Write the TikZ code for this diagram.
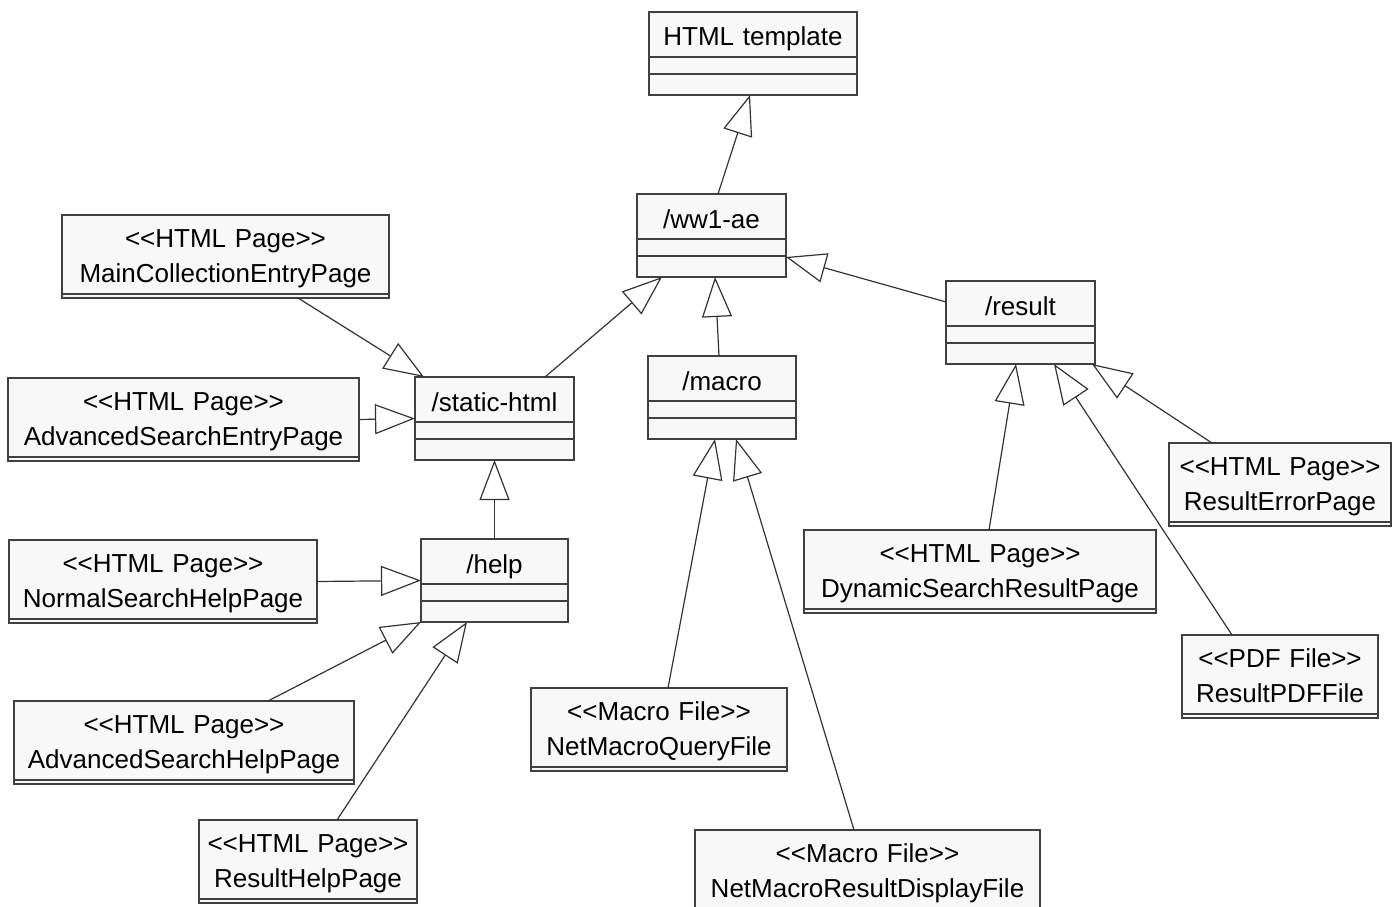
\documentclass[tikz,border=0pt]{standalone}
\usepackage{fontspec}
\setmainfont{Liberation Sans}
\usepackage{tikz}
\usetikzlibrary{arrows.meta,positioning,calc}
\usepackage{xcolor}
\definecolor{boxfill}{HTML}{F8F8F8}
\definecolor{boxline}{HTML}{404040}
\definecolor{wire}{HTML}{333333}

\begin{document}
\begin{tikzpicture}[
    x=1pt, y=-1pt,
    font=\fontsize{26}{35}\selectfont,
    cls/.style={rectangle, draw=boxline, fill=boxfill, line width=1.6pt, inner sep=0pt, outer sep=0pt,
        text width=#1, align=center, text height=34pt, text depth=49pt},
    stereo/.style={rectangle, draw=boxline, fill=boxfill, line width=1.6pt, inner sep=0pt, outer sep=0pt,
        text width=#1, align=center, text height=32pt, text depth=51pt},
    sep/.style={draw=boxline, line width=1.3pt},
    inh/.style={draw=wire, line width=1.2pt, -{Triangle[length=40pt, width=30pt, fill=white]}}
]
    \useasboundingbox (0,0) rectangle (1397,907);

    % classes
    \node[cls=208pt] (tmpl) at (753,53.5) {HTML template};
    \node[cls=149pt] (ww1) at (711.5,235.5) {/ww1-ae};
    \node[cls=159pt] (static) at (494.5,418.5) {/static-html};
    \node[cls=147pt] (help) at (494.5,580.5) {/help};
    \node[cls=148pt] (macro) at (722,397.5) {/macro};
    \node[cls=149pt] (result) at (1020.5,322.5) {/result};

    % stereotyped files
    \node[stereo=327pt] (mainEntry) at (225.5,256.5) {{<}{<}HTML Page{>}{>}\\MainCollectionEntryPage};
    \node[stereo=351pt] (advEntry) at (183.5,419.5) {{<}{<}HTML Page{>}{>}\\AdvancedSearchEntryPage};
    \node[stereo=308pt] (normHelp) at (163,581.5) {{<}{<}HTML Page{>}{>}\\NormalSearchHelpPage};
    \node[stereo=340pt] (advHelp) at (184,742.5) {{<}{<}HTML Page{>}{>}\\AdvancedSearchHelpPage};
    \node[stereo=218pt] (resHelp) at (308,861.5) {{<}{<}HTML Page{>}{>}\\ResultHelpPage};
    \node[stereo=256pt] (queryFile) at (659,729.5) {{<}{<}Macro File{>}{>}\\NetMacroQueryFile};
    \node[stereo=345pt] (displayFile) at (867.5,871.5) {{<}{<}Macro File{>}{>}\\NetMacroResultDisplayFile};
    \node[stereo=352pt] (dynResult) at (980,571.5) {{<}{<}HTML Page{>}{>}\\DynamicSearchResultPage};
    \node[stereo=222pt] (errPage) at (1280,484.5) {{<}{<}HTML Page{>}{>}\\ResultErrorPage};
    \node[stereo=196pt] (pdfFile) at (1280,676.5) {{<}{<}PDF File{>}{>}\\ResultPDFFile};

    % compartments
    \foreach \c in {tmpl,ww1,static,help,macro,result} {
        \draw[sep] ([yshift=38pt]\c.south west) -- ([yshift=38pt]\c.south east);
        \draw[sep] ([yshift=21pt]\c.south west) -- ([yshift=21pt]\c.south east);
    }
    \foreach \c in {mainEntry,advEntry,normHelp,advHelp,resHelp,queryFile,displayFile,dynResult,errPage,pdfFile}
        \draw[sep] ([yshift=4pt]\c.south west) -- ([yshift=4pt]\c.south east);

    % generalisations
    \draw[inh] ([xshift=6.5pt]ww1.north) -- ([xshift=-3pt]tmpl.south);
    \draw[inh] ([xshift=50.5pt]static.north) -- ([xshift=-49.5pt]ww1.south);
    \draw[inh] ([xshift=-3pt]macro.north) -- ([xshift=3.5pt]ww1.south);
    \draw[inh] ([yshift=20.5pt]result.west) -- ([yshift=-21.5pt]ww1.east);
    \draw[inh] ([xshift=72.5pt]mainEntry.south) -- ([xshift=-70.5pt]static.north);
    \draw[inh] (advEntry.east) -- (static.west);
    \draw[inh] (help.north) -- (static.south);
    \draw[inh] (normHelp.east) -- (help.west);
    \draw[inh] ([xshift=84pt]advHelp.north) -- (help.south west);
    \draw[inh] ([xshift=29pt]resHelp.north) -- ([xshift=-27.5pt]help.south);
    \draw[inh] ([xshift=9pt]queryFile.north) -- ([xshift=-7pt]macro.south);
    \draw[inh] ([xshift=-13.5pt]displayFile.north) -- ([xshift=14pt]macro.south);
    \draw[inh] ([xshift=9pt]dynResult.north) -- ([xshift=-4.5pt]result.south);
    \draw[inh] ([xshift=-48pt]pdfFile.north) -- ([xshift=33.5pt]result.south);
    \draw[inh] ([xshift=-68pt]errPage.north) -- ([xshift=71.5pt]result.south);
\end{tikzpicture}
\end{document}
